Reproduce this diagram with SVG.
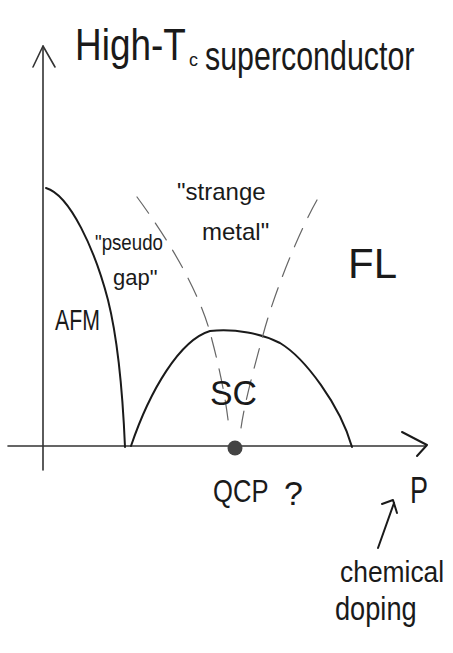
<svg xmlns="http://www.w3.org/2000/svg" width="453" height="653" viewBox="0 0 453 653">
<style>
.t{font-family:"Liberation Sans","DejaVu Sans",sans-serif;fill:#1a1a1a}
.ln{fill:none;stroke:#1a1a1a;stroke-width:2;stroke-linecap:round;stroke-linejoin:round}
.ax{fill:none;stroke:#333;stroke-width:1.6;stroke-linecap:round;stroke-linejoin:round}
.ds{fill:none;stroke:#666;stroke-width:1.2;stroke-dasharray:20 12;stroke-linecap:round}
</style>
<rect width="453" height="653" fill="#fff"/>
<g id="title">
<text class="t" transform="translate(75,60) scale(0.84,1)" font-size="44">High-T</text>
<text class="t" x="189" y="66" font-size="18">c</text>
<text class="t" transform="translate(205,70) scale(0.76,1)" font-size="40">superconductor</text>
</g>
<g id="axes">
<line class="ax" x1="43" y1="470" x2="43" y2="46"/>
<polyline class="ax" points="33,67 43,46 55,67"/>
<line class="ax" x1="8" y1="446" x2="425" y2="446"/>
<polyline class="ln" points="402,432 427,445 417,456"/>
</g>
<g id="connectors">
<path id="afm-boundary" class="ln" d="M46,188 C70,195 95,250 108,300 C118,340 123,400 125,447"/>
<path id="sc-dome" class="ln" d="M131,446 C150,390 180,340 210,331 C235,328 262,334 280,343 C305,358 340,405 352,447"/>
<path id="pg-crossover" class="ds" d="M137,197 C165,235 200,290 212,340 C220,370 226,400 229,428"/>
<path id="fl-crossover" class="ds" d="M317,200 C300,230 275,290 263,335 C255,365 245,400 241,428"/>
<line class="ln" x1="378" y1="548" x2="394" y2="503" stroke-width="1.6"/>
<polyline class="ln" points="382,504 393,500 397,513" stroke-width="1.6"/>
</g>
<g id="qcp">
<circle cx="235" cy="448" r="7.5" fill="#444"/>
<text class="t" transform="translate(213,502) scale(0.8,1)" font-size="32">QCP</text>
<text class="t" x="284" y="505" font-size="34">?</text>
</g>
<g id="afm"><text class="t" transform="translate(55,330) scale(0.71,1)" font-size="30">AFM</text></g>
<g id="pseudogap">
<text class="t" transform="translate(95,250) scale(0.85,1)" font-size="22">"pseudo</text>
<text class="t" x="113" y="285" font-size="22">gap"</text>
</g>
<g id="strange-metal">
<text class="t" x="177" y="200" font-size="24">"strange</text>
<text class="t" x="202" y="240" font-size="24">metal"</text>
</g>
<g id="fl"><text class="t" x="348" y="278" font-size="42">FL</text></g>
<g id="sc"><text class="t" transform="translate(210,405) scale(0.94,1)" font-size="36">SC</text></g>
<g id="p-axis"><text class="t" transform="translate(410,503) scale(0.75,1)" font-size="36">P</text></g>
<g id="doping">
<text class="t" transform="translate(340,582) scale(0.88,1)" font-size="30">chemical</text>
<text class="t" transform="translate(335,620) scale(0.8,1)" font-size="34">doping</text>
</g>
</svg>
